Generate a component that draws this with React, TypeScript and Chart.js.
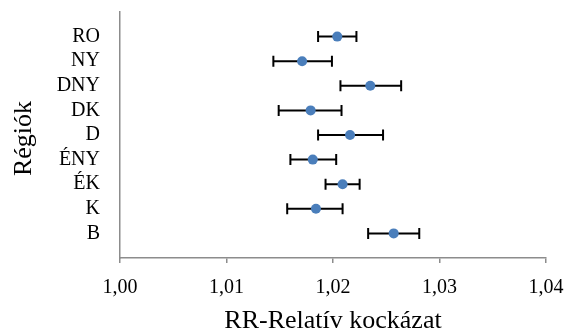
import React, { useEffect, useRef } from "react";
import { Chart, registerables } from "chart.js";

Chart.register(...registerables);

// Regions, listed top to bottom
const regions = ["RO", "NY", "DNY", "DK", "D", "ÉNY", "ÉK", "K", "B"];
// Relative risk point estimates
const rrValues = [1.0204, 1.0171, 1.0235, 1.0179, 1.0216, 1.0181, 1.0209, 1.0184, 1.0257];
// Confidence interval bounds
const ciLower = [1.0186, 1.0144, 1.0207, 1.0149, 1.0186, 1.016, 1.0193, 1.0157, 1.0233];
const ciUpper = [1.0222, 1.0199, 1.0264, 1.0208, 1.0247, 1.0203, 1.0225, 1.0209, 1.0281];
// X-axis range and step
const xMin = 1.0;
const xMax = 1.04;
const xStep = 0.01;
// Axis titles
const xTitle = "RR-Relatív kockázat";
const yTitle = "Régiók";

const FONT = "'Liberation Serif', 'Times New Roman', serif";
const AXIS_GREY = "#8c8c8c";

const errorBarPlugin = {
  id: "errorBars",
  beforeDatasetsDraw(chart: any) {
    const { ctx, scales } = chart;
    const xs = scales.x;
    const ys = scales.y;
    ctx.save();
    ctx.strokeStyle = "#000000";
    ctx.lineWidth = 2;
    const cap = 5.5;
    regions.forEach((_, i) => {
      const y = ys.getPixelForValue(i + 1);
      const x0 = xs.getPixelForValue(ciLower[i]);
      const x1 = xs.getPixelForValue(ciUpper[i]);
      ctx.beginPath();
      ctx.moveTo(x0, y);
      ctx.lineTo(x1, y);
      ctx.moveTo(x0, y - cap);
      ctx.lineTo(x0, y + cap);
      ctx.moveTo(x1, y - cap);
      ctx.lineTo(x1, y + cap);
      ctx.stroke();
    });
    ctx.restore();
  },
};

// Vertical axis title, drawn a little below the plot's middle
const yTitlePlugin = {
  id: "yTitle",
  afterDraw(chart: any) {
    const { ctx, chartArea } = chart;
    const cy = (chartArea.top + chartArea.bottom) / 2 + 3.5;
    ctx.save();
    ctx.translate(24, cy);
    ctx.rotate(-Math.PI / 2);
    ctx.font = `26px ${FONT}`;
    ctx.fillStyle = "#000000";
    ctx.textAlign = "center";
    ctx.textBaseline = "middle";
    ctx.fillText(yTitle, 0, 0);
    ctx.restore();
  },
};

export default function App() {
  const canvasRef = useRef<HTMLCanvasElement | null>(null);

  useEffect(() => {
    document.body.style.margin = "0";
    const canvas = canvasRef.current;
    if (!canvas) return;
    const chart = new Chart(canvas, {
      type: "scatter",
      data: {
        datasets: [
          {
            data: rrValues.map((v, i) => ({ x: v, y: i + 1 })),
            backgroundColor: "#4A7EBB",
            borderColor: "#4A7EBB",
            pointRadius: 5,
            pointBorderWidth: 0,
          },
        ],
      },
      options: {
        animation: false,
        responsive: false,
        maintainAspectRatio: false,
        layout: { padding: { top: 12, right: 19, bottom: 0, left: 0 } },
        plugins: {
          legend: { display: false },
          tooltip: { enabled: false },
        },
        scales: {
          x: {
            type: "linear",
            min: xMin,
            max: xMax,
            afterFit: (scale: any) => {
              scale.height = 71;
              scale.paddingLeft = 0;
              scale.paddingRight = 0;
            },
            ticks: {
              stepSize: xStep,
              color: "#000000",
              font: { family: FONT, size: 20 },
              padding: 13,
              maxRotation: 0,
              callback: (v: any) => Number(v).toFixed(2).replace(".", ","),
            },
            grid: {
              drawOnChartArea: false,
              drawTicks: true,
              tickLength: 5,
              color: AXIS_GREY,
              lineWidth: 1.5,
            },
            border: { display: true, color: AXIS_GREY, width: 1.5 },
            title: {
              display: true,
              text: xTitle,
              color: "#000000",
              font: { family: FONT, size: 26, lineHeight: 0.6 },
              padding: { top: 0, bottom: 0.3 },
            },
          },
          y: {
            type: "linear",
            min: 0,
            max: regions.length + 1,
            reverse: true,
            afterBuildTicks: (scale: any) => {
              scale.ticks = regions.map((_, i) => ({ value: i + 1 }));
            },
            afterFit: (scale: any) => {
              scale.width = 120;
              scale.paddingTop = 0;
              scale.paddingBottom = 0;
            },
            ticks: {
              color: "#000000",
              font: { family: FONT, size: 20 },
              padding: 20,
              autoSkip: false,
              callback: (v: any) => regions[Number(v) - 1] ?? "",
            },
            grid: { drawOnChartArea: false, drawTicks: false },
            border: { display: true, color: AXIS_GREY, width: 1.5 },
          },
        },
      },
      plugins: [errorBarPlugin, yTitlePlugin],
    } as any);
    return () => chart.destroy();
  }, []);

  return (
    <div style={{ position: "relative", width: 565, height: 329 }}>
      <canvas ref={canvasRef} width={565} height={329} style={{ display: "block" }} />
    </div>
  );
}
